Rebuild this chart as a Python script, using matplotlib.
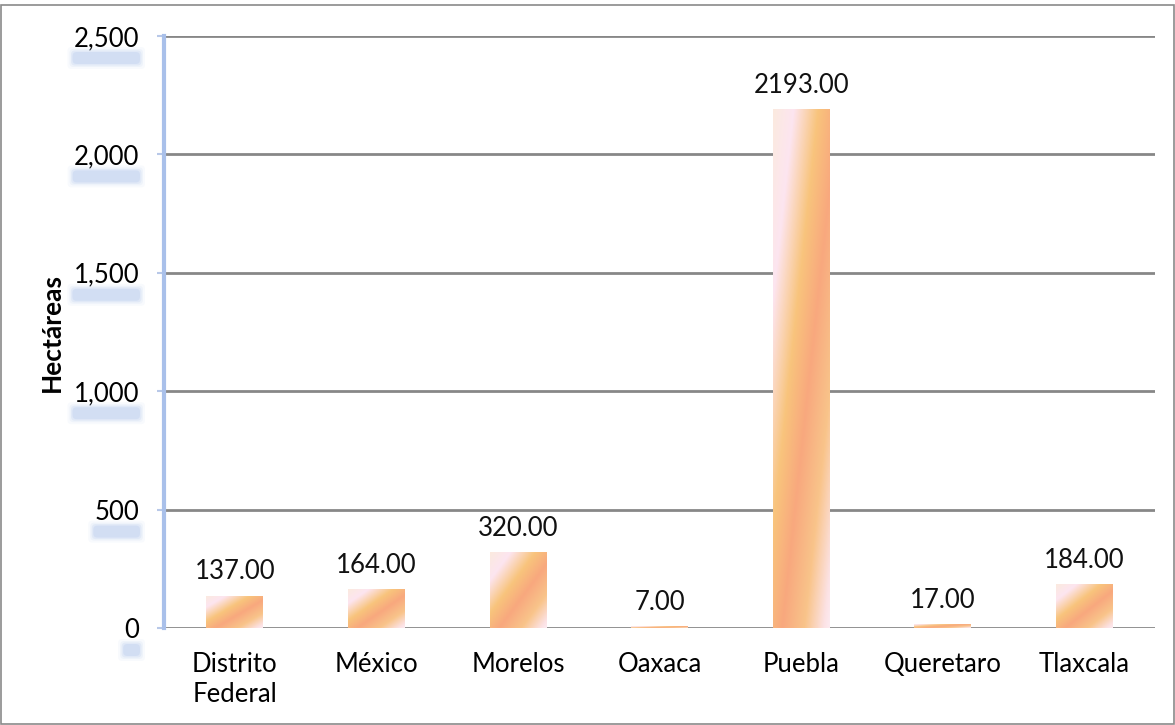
import numpy as np
import matplotlib
matplotlib.use("Agg")
import matplotlib.pyplot as plt
from matplotlib.colors import LinearSegmentedColormap
from matplotlib.patches import Rectangle, FancyBboxPatch

# Datos
estados = ["Distrito\nFederal", "México", "Morelos", "Oaxaca", "Puebla", "Queretaro", "Tlaxcala"]
hectareas = [137.00, 164.00, 320.00, 7.00, 2193.00, 17.00, 184.00]
yticks = [0, 500, 1000, 1500, 2000, 2500]
ytick_labels = ["0", "500", "1,000", "1,500", "2,000", "2,500"]

plt.rcParams["font.family"] = ["Lato", "DejaVu Sans"]
fs = 18.5

fig = plt.figure(figsize=(11.75, 7.25), dpi=100)
ax = fig.add_axes([164 / 1175, 97 / 725, 991 / 1175, 592 / 725])

# Degradado de las barras
grad = LinearSegmentedColormap.from_list("grad", [
    (0.0, "#fbeadf"), (0.18, "#fde5f0"), (0.4, "#f8c47c"),
    (0.58, "#f8a87e"), (0.78, "#f9c48a"), (0.95, "#fce2e4"), (1.0, "#fdeaf0")])
xn, yn = np.meshgrid(np.linspace(0, 1, 60), np.linspace(1, 0, 200))
u = (xn + (1 - yn)) / 2

x = np.arange(len(estados))
bars = ax.bar(x, hectareas, width=0.4, color="none", edgecolor="none", zorder=3)
for b in bars:
    x0, w, h = b.get_x(), b.get_width(), b.get_height()
    im = ax.imshow(u, cmap=grad, vmin=0, vmax=1, extent=(x0, x0 + w, 0, h),
                   aspect="auto", interpolation="bilinear", zorder=3)
    im.set_clip_path(b)

for xi, v in zip(x, hectareas):
    ax.annotate(f"{v:.2f}", (xi, v), xytext=(0, 8), textcoords="offset points",
                ha="center", va="bottom", fontsize=fs, color="#111111")

ax.set_xlim(-0.5, 6.5)
ax.set_ylim(0, 2500)
ax.set_yticks(yticks)
ax.set_yticklabels(ytick_labels)
ax.set_xticks(x)
ax.set_xticklabels(estados, fontsize=fs, linespacing=1.25)
ax.tick_params(axis="x", length=0, pad=17)
ax.tick_params(axis="y", length=5, width=1.5, color="#b8c8e8", pad=13, labelsize=fs)

for yv in yticks:
    ax.axhline(yv, color="#878787", lw=2, zorder=2)

for s in ["top", "right", "bottom"]:
    ax.spines[s].set_visible(False)
ax.spines["left"].set_color("#a9c0ea")
ax.spines["left"].set_linewidth(3)

for lab in ax.get_yticklabels():
    lab.set_bbox(dict(facecolor="white", edgecolor="none", pad=2))
    lab.set_zorder(5)

ax.set_ylabel("Hectáreas", fontsize=19, fontweight="bold")
ax.yaxis.set_label_coords(-100 / 991, 0.5)

# Sombras azules bajo las etiquetas del eje y
fig.canvas.draw()
r = fig.canvas.get_renderer()
for lab in ax.get_yticklabels():
    bb = lab.get_window_extent(r)
    for k, a in [(5, 0.08), (3, 0.12), (1.5, 0.18), (0, 0.25)]:
        sh = FancyBboxPatch((bb.x0 - 1 - k, bb.y0 - 13 - k), bb.width + 2 + 2 * k, 12 + 2 * k,
                            boxstyle="round,pad=0,rounding_size=4", transform=None,
                            facecolor="#a9c1ea", edgecolor="none", alpha=a, zorder=1)
        fig.patches.append(sh)

# Borde exterior
fig.patches.append(Rectangle((0.001, 0.001), 0.998, 0.992, transform=fig.transFigure,
                             fill=False, edgecolor="#8a8a8a", lw=1.2))

fig.savefig("out.png", dpi=100)
